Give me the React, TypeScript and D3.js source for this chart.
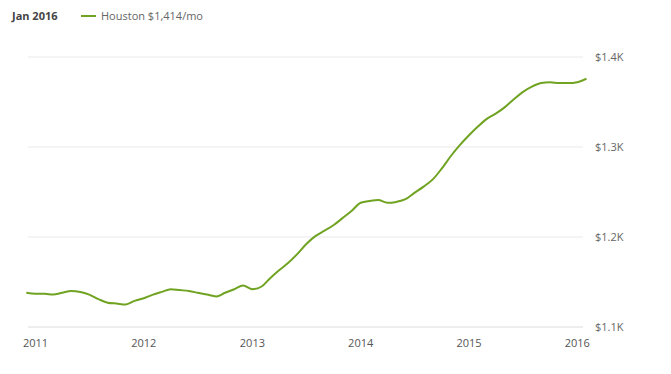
import React, { useEffect, useRef } from 'react';
import * as d3 from 'd3';

// monthly rent, Dec 2010 .. Feb 2016
const startMonth = '2010-12';
const rent = [
  1138, 1137, 1137, 1136, 1138, 1140, 1139, 1136, 1131, 1127, 1126, 1125,
  1129, 1132, 1136, 1139, 1142, 1141, 1140, 1138, 1136, 1134, 1138, 1142,
  1146, 1142, 1145, 1154, 1163, 1171, 1181, 1192, 1201, 1207, 1213, 1221,
  1229, 1238, 1240, 1241, 1238, 1239, 1242, 1249, 1256, 1264, 1276, 1290,
  1302, 1313, 1323, 1331, 1337, 1344, 1353, 1361, 1367, 1371, 1372, 1371,
  1371, 1372, 1376,
];
const yearTicks = ['2011', '2012', '2013', '2014', '2015', '2016'];
const valueTicks = [1100, 1200, 1300, 1400];
const headerDate = 'Jan 2016';
const seriesLabel = 'Houston $1,414/mo';

const GREEN = '#70a322';

export default function App() {
  const ref = useRef<SVGSVGElement>(null);

  useEffect(() => {
    const svg = d3.select(ref.current);
    svg.selectAll('*').remove();

    const parseMonth = d3.timeParse('%Y-%m');
    const first = parseMonth(startMonth) as Date;
    const data = rent.map((v, i) => ({ date: d3.timeMonth.offset(first, i), value: v }));

    const x = d3.scaleTime()
      .domain([new Date(2011, 0, 1), new Date(2016, 0, 1)])
      .range([35.5, 577.3]);
    const y = d3.scaleLinear().domain([1100, 1400]).range([327, 57]);

    const font = "'Open Sans', sans-serif";

    // header
    svg.append('text')
      .attr('x', 12).attr('y', 20)
      .attr('font-family', font).attr('font-size', 11).attr('font-weight', 700)
      .attr('fill', '#444')
      .text(headerDate);
    svg.append('line')
      .attr('x1', 81).attr('x2', 96).attr('y1', 16).attr('y2', 16)
      .attr('stroke', GREEN).attr('stroke-width', 2);
    svg.append('text')
      .attr('x', 101).attr('y', 20)
      .attr('font-family', font).attr('font-size', 11)
      .attr('fill', '#666')
      .text(seriesLabel);

    // gridlines + value labels
    const g = svg.append('g');
    g.selectAll('line.grid')
      .data(valueTicks)
      .join('line')
      .attr('class', 'grid')
      .attr('x1', 28).attr('x2', 583)
      .attr('y1', d => y(d)).attr('y2', d => y(d))
      .attr('stroke', (d, i) => (i === 0 ? '#dcdcdc' : '#e9e9e9'))
      .attr('stroke-width', 1);
    g.selectAll('text.ylab')
      .data(valueTicks)
      .join('text')
      .attr('class', 'ylab')
      .attr('x', 595)
      .attr('y', d => y(d) + 4)
      .attr('font-family', font).attr('font-size', 11)
      .attr('fill', '#666')
      .text(d => '$' + d3.format('.1f')(d / 1000) + 'K');

    // year labels
    g.selectAll('text.xlab')
      .data(yearTicks)
      .join('text')
      .attr('class', 'xlab')
      .attr('x', d => x(new Date(+d, 0, 1)))
      .attr('y', 347)
      .attr('text-anchor', 'middle')
      .attr('font-family', font).attr('font-size', 11)
      .attr('fill', '#555')
      .text(d => d);

    // the line
    svg.append('path')
      .datum(data)
      .attr('fill', 'none')
      .attr('stroke', GREEN)
      .attr('stroke-width', 2)
      .attr('stroke-linejoin', 'round')
      .attr('d', d3.line<{ date: Date; value: number }>()
        .x(d => x(d.date))
        .y(d => y(d.value))
        .curve(d3.curveMonotoneX));
  }, []);

  return (
    <svg
      ref={ref}
      width={671}
      height={374}
      style={{ position: 'absolute', left: 0, top: 0, background: '#fff' }}
    />
  );
}
